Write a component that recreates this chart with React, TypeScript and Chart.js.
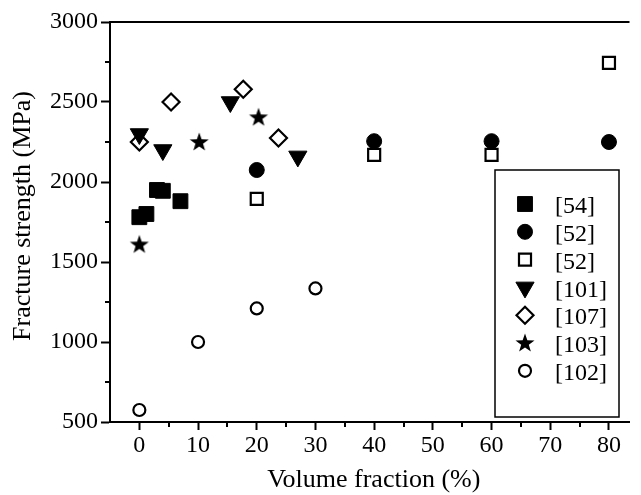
import React, { useEffect, useRef } from 'react';
import { Chart, registerables } from 'chart.js';
import { drawPoint } from 'chart.js/helpers';

Chart.register(...registerables);

const xTicks = [0, 10, 20, 30, 40, 50, 60, 70, 80];
const xMinorTicks = [5, 15, 25, 35, 45, 55, 65, 75];
const yTicks = [500, 1000, 1500, 2000, 2500, 3000];
const yMinorTicks = [750, 1250, 1750, 2250, 2750];

const xTitle = 'Volume fraction (%)';
const yTitle = 'Fracture strength (MPa)';

const ref54 = [
  { x: 0, y: 1780 },
  { x: 1.2, y: 1800 },
  { x: 3, y: 1950 },
  { x: 4, y: 1945 },
  { x: 7, y: 1880 },
];
const ref52a = [
  { x: 20, y: 2075 },
  { x: 40, y: 2255 },
  { x: 60, y: 2255 },
  { x: 80, y: 2250 },
];
const ref52b = [
  { x: 20, y: 1895 },
  { x: 40, y: 2170 },
  { x: 60, y: 2170 },
  { x: 80, y: 2745 },
];
const ref101 = [
  { x: 0, y: 2300 },
  { x: 4, y: 2200 },
  { x: 15.5, y: 2500 },
  { x: 27, y: 2160 },
];
const ref107 = [
  { x: 0, y: 2250 },
  { x: 5.4, y: 2500 },
  { x: 17.7, y: 2580 },
  { x: 23.7, y: 2275 },
];
const ref103 = [
  { x: 0, y: 1610 },
  { x: 10.2, y: 2250 },
  { x: 20.3, y: 2405 },
];
const ref102 = [
  { x: 0, y: 575 },
  { x: 10, y: 1000 },
  { x: 20, y: 1210 },
  { x: 30, y: 1335 },
];

const FONT = '"Liberation Serif", "Times New Roman", serif';

function makeStar(size: number, outer: number, inner: number) {
  const c = document.createElement('canvas');
  c.width = size;
  c.height = size;
  const ctx = c.getContext('2d')!;
  const cx = size / 2;
  const cy = size / 2 + 0.5;
  ctx.beginPath();
  for (let i = 0; i < 10; i++) {
    const r = i % 2 === 0 ? outer : inner;
    const a = -Math.PI / 2 + (i * Math.PI) / 5;
    const px = cx + r * Math.cos(a);
    const py = cy + r * Math.sin(a);
    if (i === 0) ctx.moveTo(px, py);
    else ctx.lineTo(px, py);
  }
  ctx.closePath();
  ctx.fillStyle = '#000';
  ctx.fill();
  return c;
}

export default function App() {
  const canvasRef = useRef<HTMLCanvasElement | null>(null);

  useEffect(() => {
    const canvas = canvasRef.current;
    if (!canvas) return;
    const star = makeStar(22, 10, 4);

    const framePlugin = {
      id: 'frame',
      afterDraw(chart: any) {
        const { ctx, chartArea, scales } = chart;
        const xs = scales.x;
        const ys = scales.y;
        ctx.save();
        ctx.strokeStyle = '#000';
        ctx.lineWidth = 2;
        // top line
        ctx.beginPath();
        ctx.moveTo(chartArea.left - 1, chartArea.top);
        ctx.lineTo(chartArea.right, chartArea.top);
        ctx.stroke();
        // minor ticks
        xMinorTicks.forEach((v) => {
          const px = Math.round(xs.getPixelForValue(v));
          ctx.beginPath();
          ctx.moveTo(px, chartArea.bottom);
          ctx.lineTo(px, chartArea.bottom + 5);
          ctx.stroke();
        });
        yMinorTicks.forEach((v) => {
          const py = Math.round(ys.getPixelForValue(v));
          ctx.beginPath();
          ctx.moveTo(chartArea.left, py);
          ctx.lineTo(chartArea.left - 5, py);
          ctx.stroke();
        });
        // axis titles
        ctx.fillStyle = '#000';
        ctx.font = `26px ${FONT}`;
        ctx.textAlign = 'center';
        ctx.textBaseline = 'middle';
        ctx.fillText(xTitle, (chartArea.left + chartArea.right) / 2 + 4, 480);
        ctx.save();
        ctx.translate(23, 216);
        ctx.rotate(-Math.PI / 2);
        ctx.fillText(yTitle, 0, 0);
        ctx.restore();

        // legend
        const bx = 495, by = 170, bw = 124, bh = 247;
        ctx.fillStyle = '#fff';
        ctx.fillRect(bx, by, bw, bh);
        ctx.lineWidth = 1.5;
        ctx.strokeStyle = '#000';
        ctx.strokeRect(bx, by, bw, bh);
        ctx.font = `24px ${FONT}`;
        ctx.textAlign = 'left';
        ctx.textBaseline = 'middle';
        chart.data.datasets.forEach((ds: any, i: number) => {
          const y = 204 + i * 27.8;
          const x = 525;
          ctx.fillStyle = ds.backgroundColor;
          ctx.strokeStyle = ds.borderColor;
          ctx.lineWidth = ds.borderWidth;
          drawPoint(ctx, {
            pointStyle: ds.pointStyle,
            rotation: ds.rotation || 0,
            radius: ds.pointRadius,
            borderWidth: ds.borderWidth,
          }, x, y);
          ctx.fillStyle = '#000';
          ctx.fillText(ds.label, 555, y + 3);
        });
        ctx.restore();
      },
    };

    const chart = new Chart(canvas, {
      type: 'scatter',
      data: {
        datasets: [
          { label: '[54]', data: ref54, pointStyle: 'rect', pointRadius: 10.5, backgroundColor: '#000', borderColor: '#000', borderWidth: 1 },
          { label: '[52]', data: ref52a, pointStyle: 'circle', pointRadius: 7.5, backgroundColor: '#000', borderColor: '#000', borderWidth: 1 },
          { label: '[52]', data: ref52b, pointStyle: 'rect', pointRadius: 8.5, backgroundColor: '#fff', borderColor: '#000', borderWidth: 2.2 },
          { label: '[101]', data: ref101, pointStyle: 'triangle', rotation: 180, pointRotation: 180, pointRadius: 10.5, backgroundColor: '#000', borderColor: '#000', borderWidth: 1 },
          { label: '[107]', data: ref107, pointStyle: 'rectRot', pointRadius: 8.5, backgroundColor: '#fff', borderColor: '#000', borderWidth: 2.2 },
          { label: '[103]', data: ref103, pointStyle: star, pointRadius: 10, backgroundColor: '#000', borderColor: '#000', borderWidth: 1 },
          { label: '[102]', data: ref102, pointStyle: 'circle', pointRadius: 6, backgroundColor: '#fff', borderColor: '#000', borderWidth: 2.2 },
        ] as any,
      },
      options: {
        responsive: false,
        animation: false,
        devicePixelRatio: 1,
        layout: { padding: { top: 22, left: 0, right: 0, bottom: 0 } },
        plugins: { legend: { display: false }, tooltip: { enabled: false } },
        elements: { point: { hoverRadius: 0 } as any },
        scales: {
          x: {
            type: 'linear',
            min: -5,
            max: 83.5,
            afterBuildTicks: (s: any) => { s.ticks = xTicks.map((v) => ({ value: v })); },
            afterFit: (s: any) => { s.height = 73; },
            grid: { drawOnChartArea: false, drawTicks: true, tickLength: 8, tickWidth: 2, tickColor: '#000' },
            border: { display: true, width: 2, color: '#000' },
            ticks: { color: '#000', font: { family: FONT, size: 24 }, padding: 1, maxRotation: 0, autoSkip: false, callback: (v: any) => String(v) },
          },
          y: {
            type: 'linear',
            min: 500,
            max: 3000,
            afterBuildTicks: (s: any) => { s.ticks = yTicks.map((v) => ({ value: v })); },
            afterFit: (s: any) => { s.width = 110; },
            grid: { drawOnChartArea: false, drawTicks: true, tickLength: 9, tickWidth: 2, tickColor: '#000' },
            border: { display: true, width: 2, color: '#000' },
            ticks: { color: '#000', font: { family: FONT, size: 24 }, padding: 3, autoSkip: false, callback: (v: any) => String(v) },
          },
        },
      },
      plugins: [framePlugin],
    });
    return () => chart.destroy();
  }, []);

  return (
    <div style={{ position: 'absolute', left: 0, top: 0, width: 641, height: 495, background: '#fff' }}>
      <canvas ref={canvasRef} width={641} height={495} style={{ display: 'block' }} />
    </div>
  );
}
